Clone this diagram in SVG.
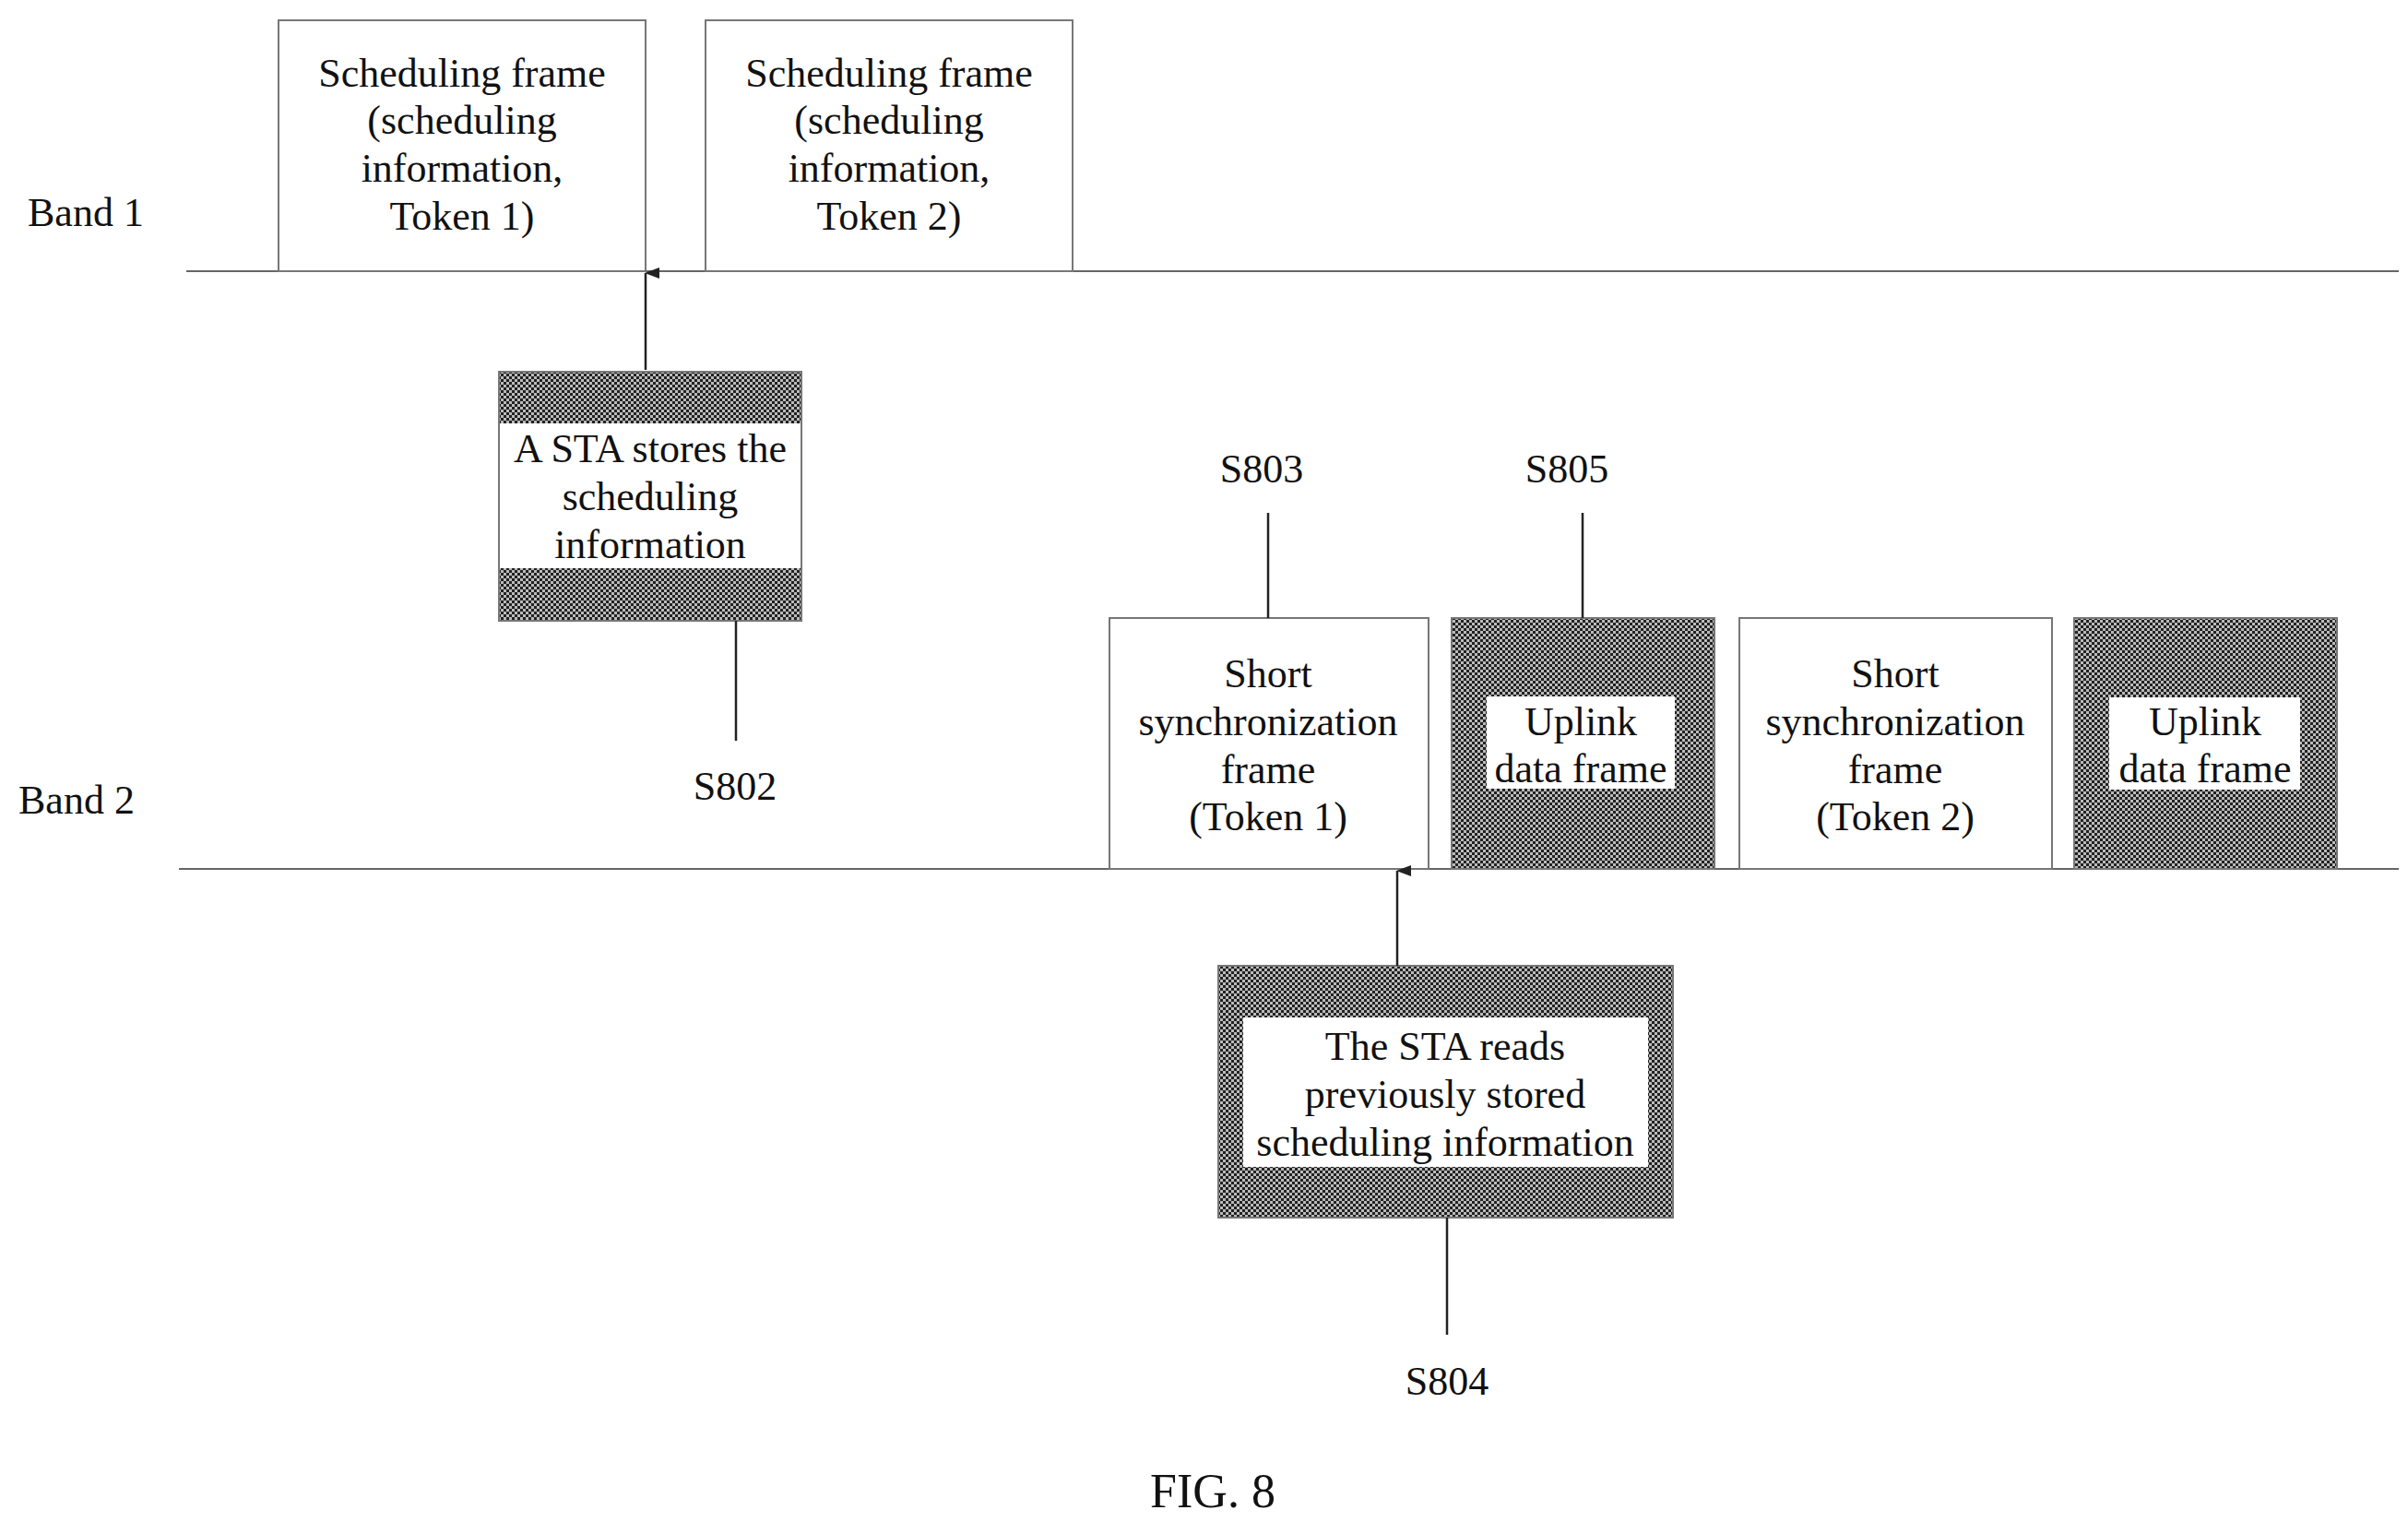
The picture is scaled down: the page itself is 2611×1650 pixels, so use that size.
<svg xmlns="http://www.w3.org/2000/svg" width="2611" height="1650" viewBox="0 0 2611 1650">
<style>
text{font-family:"Liberation Serif","Times New Roman",serif;font-size:44px;fill:#111;text-anchor:middle}
.lbl{text-anchor:start}
.box{fill:#fff;stroke:#777;stroke-width:2}
.pat{fill:url(#chk);stroke:#777;stroke-width:2}
.ln{stroke:#222;stroke-width:2.5;fill:none}
.band{stroke:#666;stroke-width:2;fill:none}
</style>
<defs>
<pattern id="chk" width="6" height="6" patternUnits="userSpaceOnUse">
<rect width="6" height="6" fill="#bbb"/>
<rect width="3" height="3" fill="#222"/>
<rect x="3" y="3" width="3" height="3" fill="#222"/>
</pattern>
<marker id="arr" markerWidth="12" markerHeight="16" refX="6" refY="1" orient="auto-start-reverse" markerUnits="userSpaceOnUse" viewBox="0 0 12 16">
<path d="M0,16 L6,0 L12,16 Z" fill="#222"/>
</marker>
</defs>
<text class="lbl" x="30" y="245">Band 1</text>
<text class="lbl" x="20" y="882">Band 2</text>
<line class="band" x1="202" y1="294" x2="2601" y2="294"/>
<line class="band" x1="194" y1="942" x2="2601" y2="942"/>
<g id="sched1"><rect class="box" x="302" y="22" width="398" height="272"/>
<text x="501" y="94">Scheduling frame</text><text x="501" y="145">(scheduling</text><text x="501" y="197">information,</text><text x="501" y="249">Token 1)</text></g>
<g id="sched2"><rect class="box" x="765" y="22" width="398" height="272"/>
<text x="964" y="94">Scheduling frame</text><text x="964" y="145">(scheduling</text><text x="964" y="197">information,</text><text x="964" y="249">Token 2)</text></g>
<g id="store"><rect class="pat" x="541" y="403" width="328" height="270"/>
<rect x="542" y="459" width="326" height="157" fill="#fff"/>
<text x="705" y="501">A STA stores the</text><text x="705" y="553">scheduling</text><text x="705" y="605">information</text></g>
<g id="sync1"><rect class="box" x="1203" y="670" width="346" height="272"/>
<text x="1375" y="745">Short</text><text x="1375" y="797">synchronization</text><text x="1375" y="849">frame</text><text x="1375" y="900">(Token 1)</text></g>
<g id="up1"><rect class="pat" x="1574" y="670" width="285" height="272"/>
<rect x="1612" y="755" width="204" height="100" fill="#fff"/>
<text x="1714" y="797">Uplink</text><text x="1714" y="848">data frame</text></g>
<g id="sync2"><rect class="box" x="1886" y="670" width="339" height="272"/>
<text x="2055" y="745">Short</text><text x="2055" y="797">synchronization</text><text x="2055" y="849">frame</text><text x="2055" y="900">(Token 2)</text></g>
<g id="up2"><rect class="pat" x="2249" y="670" width="285" height="272"/>
<rect x="2287" y="756" width="207" height="100" fill="#fff"/>
<text x="2391" y="797">Uplink</text><text x="2391" y="848">data frame</text></g>
<g id="read"><rect class="pat" x="1321" y="1047" width="493" height="273"/>
<rect x="1348" y="1103" width="439" height="162" fill="#fff"/>
<text x="1567" y="1149">The STA reads</text><text x="1567" y="1201">previously stored</text><text x="1567" y="1253">scheduling information</text></g>
<g id="connectors">
<line class="ln" x1="700" y1="401" x2="700" y2="296" marker-end="url(#arr)"/>
<line class="ln" x1="1515" y1="1047" x2="1515" y2="944" marker-end="url(#arr)"/>
<line class="ln" x1="798" y1="673" x2="798" y2="803"/>
<line class="ln" x1="1375" y1="556" x2="1375" y2="670"/>
<line class="ln" x1="1716" y1="556" x2="1716" y2="670"/>
<line class="ln" x1="1569" y1="1320" x2="1569" y2="1447"/>
</g>
<text x="797" y="867">S802</text>
<text x="1368" y="523">S803</text>
<text x="1699" y="523">S805</text>
<text x="1569" y="1512">S804</text>
<text x="1315" y="1634" style="font-size:52px">FIG. 8</text>
</svg>
